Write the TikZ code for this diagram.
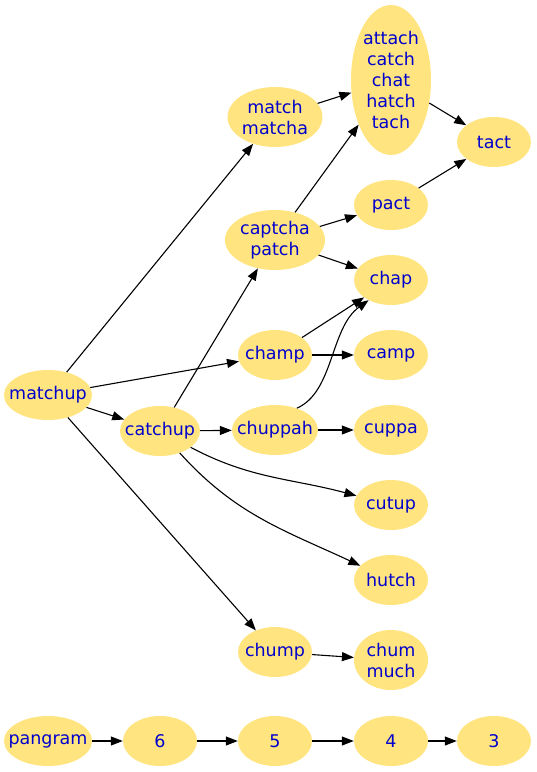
\documentclass[tikz,border=0pt]{standalone}
\usepackage{fontspec}
\setmainfont{DejaVu Sans}
\usepackage{xcolor}
\usepackage{tikz}
\usetikzlibrary{arrows.meta,shapes.geometric}

\definecolor{wordfill}{HTML}{FFE47F}
\definecolor{wordtext}{HTML}{0000CD}

\begin{document}
\begin{tikzpicture}[
  x=1pt, y=-1pt,
  word/.style={ellipse, fill=wordfill, text=wordtext, inner sep=-12pt, align=center,
    minimum width=74pt, minimum height=50pt, font=\fontsize{17.5}{21}\selectfont},
  link/.style={draw, black, line width=1.1pt, -{Triangle[length=12pt,width=9pt]}}
]
  \useasboundingbox (0,0) rectangle (537,772);

  % anagram graph
  \node[word, minimum width=88pt] (matchup) at (48,395) {matchup};
  \node[word, minimum width=80pt] (catchup) at (160,431) {catchup};
  \node[word, minimum width=95pt, minimum height=60pt] (matcha) at (275,117) {match\\matcha};
  \node[word, minimum width=80pt, minimum height=150pt] (attach) at (391,80) {attach\\catch\\chat\\hatch\\tach};
  \node[word] (tact) at (494,142) {tact};
  \node[word, minimum width=100pt, minimum height=60pt] (captcha) at (275,240) {captcha\\patch};
  \node[word] (pact) at (391,205) {pact};
  \node[word] (chap) at (391,280) {chap};
  \node[word] (champ) at (275,355) {champ};
  \node[word] (camp) at (391,355) {camp};
  \node[word, minimum width=86pt] (chuppah) at (275,430) {chuppah};
  \node[word] (cuppa) at (391,430) {cuppa};
  \node[word] (cutup) at (391,505) {cutup};
  \node[word] (hutch) at (391,580) {hutch};
  \node[word] (chump) at (275,652) {chump};
  \node[word, minimum height=60pt] (chum) at (391,660) {chum\\much};

  \draw[link] (matchup) -- (matcha);
  \draw[link] (matchup) -- (champ);
  \draw[link] (matchup) -- (catchup);
  \draw[link] (matchup) -- (chump);
  \draw[link] (catchup) -- (captcha);
  \draw[link] (catchup) -- (chuppah);
  \draw[link] (catchup) to[out=-28, in=165] (cutup);
  \draw[link] (catchup) to[out=-48, in=155] (hutch);
  \draw[link] (matcha) -- (attach);
  \draw[link] (captcha) -- (attach);
  \draw[link] (captcha) -- (pact);
  \draw[link] (captcha) -- (chap);
  \draw[link] (attach) -- (tact);
  \draw[link] (pact) -- (tact);
  \draw[link] (champ) -- (chap);
  \draw[link] (champ) -- (camp);
  \draw[link] (chuppah.45) .. controls (334,392) and (330,328) .. (chap.-138);
  \draw[link] (chuppah) -- (cuppa);
  \draw[link] (chump) -- (chum);

  % length chain
  \node[word, minimum width=88pt] (pangram) at (48,741) {pangram};
  \node[word] (six) at (160,741) {6};
  \node[word] (five) at (275,741) {5};
  \node[word] (four) at (391,741) {4};
  \node[word] (three) at (494,741) {3};
  \draw[link] (pangram) -- (six);
  \draw[link] (six) -- (five);
  \draw[link] (five) -- (four);
  \draw[link] (four) -- (three);
\end{tikzpicture}
\end{document}
